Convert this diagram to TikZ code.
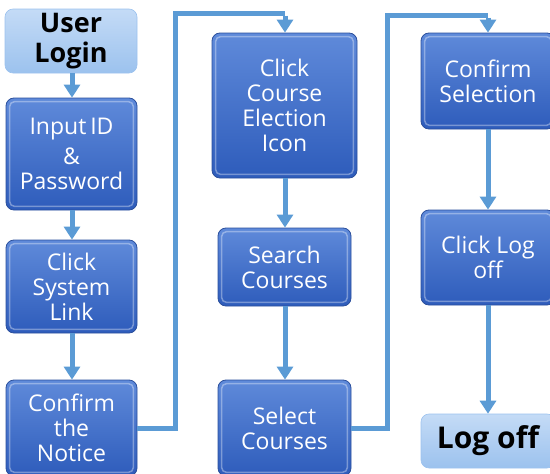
\documentclass[tikz,border=0pt]{standalone}
\usepackage{fontspec}
\setmainfont{Open Sans}
\usetikzlibrary{arrows.meta}
\definecolor{btop}{HTML}{5F8ADA}
\definecolor{bbot}{HTML}{2E5CBB}
\definecolor{bline}{HTML}{2B4F9C}
\definecolor{ltop}{HTML}{C4DBF6}
\definecolor{lbot}{HTML}{9CC2EE}
\definecolor{arr}{HTML}{5B9BD5}
\tikzset{
  bluebox/.style={rounded corners=8pt, draw=bline, line width=0.8pt, top color=btop, bottom color=bbot,
    text=white, align=center, font=\fontsize{23}{25}\selectfont, inner sep=0pt},
  lightbox/.style={rounded corners=8pt, draw=lbot, line width=0.6pt, top color=ltop, bottom color=lbot,
    text=black, align=center, font=\fontsize{27}{30}\selectfont\bfseries, inner sep=0pt},
  flow/.style={draw=arr, line width=5pt, -{Triangle[width=16pt,length=13pt]}},
  link/.style={draw=arr, line width=5pt},
  hilite/.style={draw=white, opacity=0.35, line width=1.5pt, rounded corners=5pt}
}
\newcommand{\bevel}[1]{\draw[hilite] ([shift={(4pt,4pt)}]#1.south west) rectangle ([shift={(-4pt,-4pt)}]#1.north east);}
\begin{document}
\begin{tikzpicture}[x=1pt,y=-1pt]
\useasboundingbox (0,0) rectangle (550,474);
% column 1
\node[lightbox, minimum width=132pt, minimum height=64pt] (login) at (71,41) {User\\Login};
\node[bluebox, minimum width=131pt, minimum height=112pt] (input) at (71.5,154) {Input\,ID\\[5pt]\&\\Password};
\node[bluebox, minimum width=131pt, minimum height=93pt] (sys) at (71.5,286.5) {Click\\System\\Link};
\node[bluebox, minimum width=131pt, minimum height=96pt] (notice) at (71.5,428) {Confirm\\the\\Notice};
% column 2
\node[bluebox, minimum width=145pt, minimum height=145pt] (icon) at (284.5,105.5) {Click\\Course\\Election\\Icon};
\node[bluebox, minimum width=133pt, minimum height=78pt] (search) at (284.5,267) {Search\\Courses};
\node[bluebox, minimum width=133pt, minimum height=96pt] (select) at (284.5,428) {Select\\Courses};
% column 3
\node[bluebox, minimum width=134pt, minimum height=96pt] (confirm) at (488,81) {Confirm\\Selection};
\node[bluebox, minimum width=134pt, minimum height=95pt] (logclick) at (488,257.5) {Click Log\\off};
\node[lightbox, minimum width=134pt, minimum height=54pt, font=\fontsize{30}{32}\selectfont\bfseries] (logoff) at (488,441) {Log off};
\foreach \n in {input,sys,notice,icon,search,select,confirm,logclick} {\bevel{\n}}
% connectors
\draw[flow] (login.south -| 72,0) -- (input.north -| 72,0);
\draw[flow] (input.south -| 72,0) -- (sys.north -| 72,0);
\draw[flow] (sys.south -| 72,0) -- (notice.north -| 72,0);
\coordinate (c1a) at (175,13);
\coordinate (c1b) at (285,13);
\draw[link] (notice.east |- 0,428) -- (175,428) -- (c1a) -- (c1b);
\draw[flow] ([yshift=-2.5pt]c1b) -- (icon.north -| 285,0);
\draw[flow] (icon.south -| 285,0) -- (search.north -| 285,0);
\draw[flow] (search.south -| 285,0) -- (select.north -| 285,0);
\coordinate (c2a) at (387,15);
\coordinate (c2b) at (488,15);
\draw[link] (select.east |- 0,428) -- (387,428) -- (c2a) -- (c2b);
\draw[flow] ([yshift=-2.5pt]c2b) -- (confirm.north);
\draw[flow] (confirm.south) -- (logclick.north);
\draw[flow] (logclick.south) -- (logoff.north);
\end{tikzpicture}
\end{document}
